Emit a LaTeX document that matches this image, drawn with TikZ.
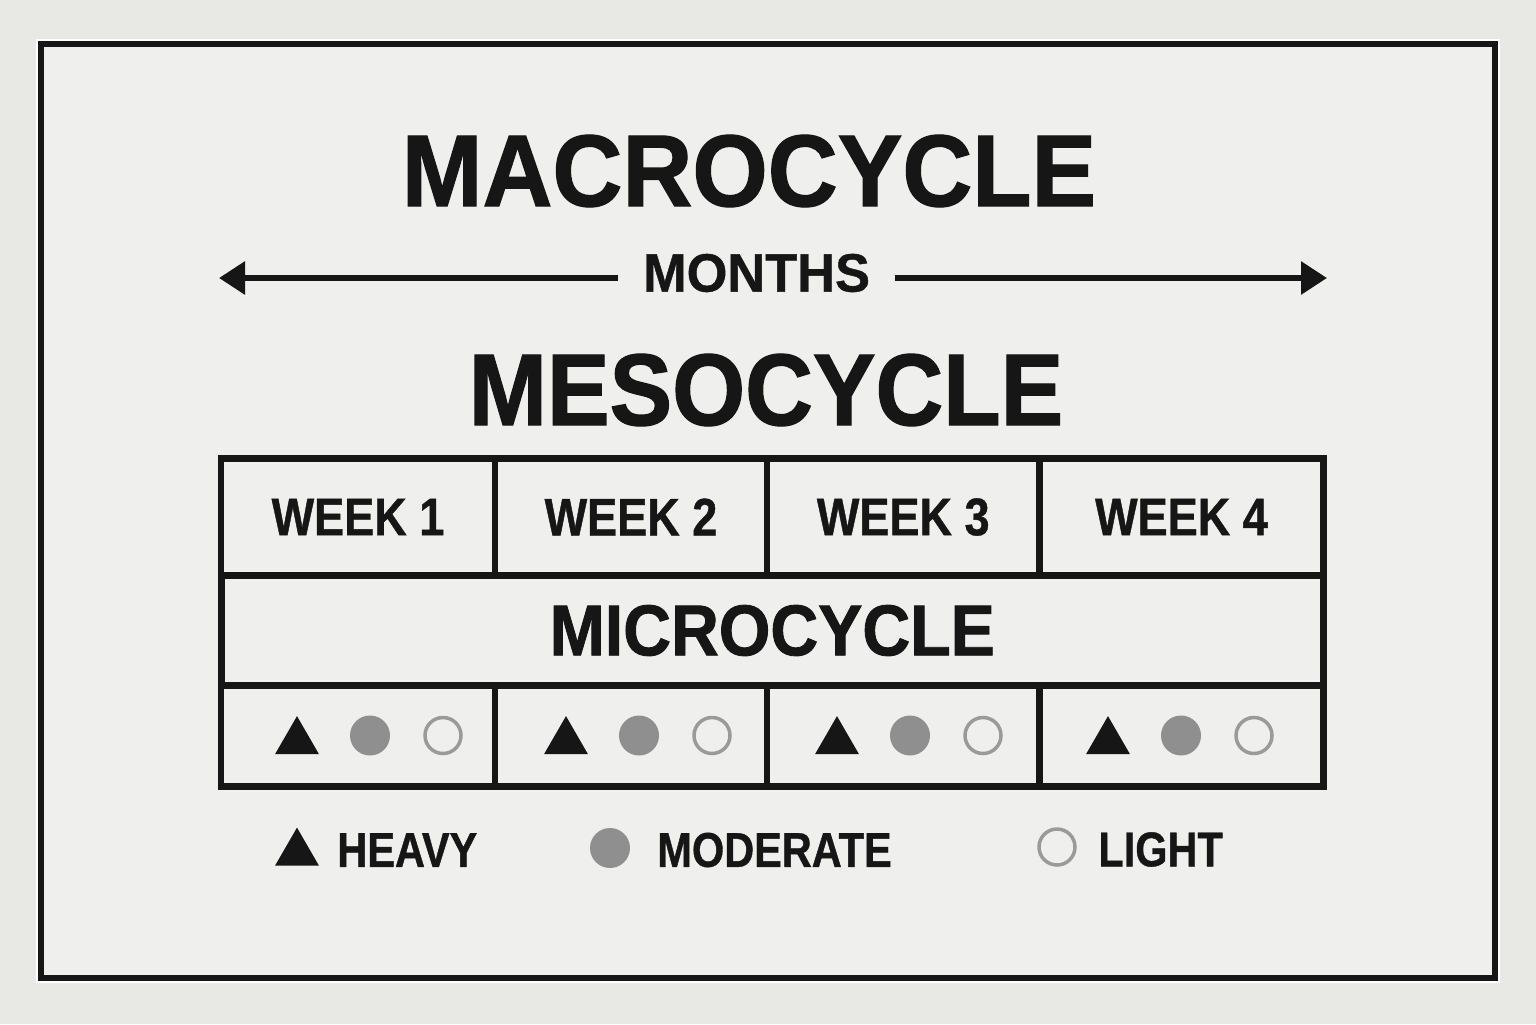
\documentclass[tikz,border=0pt]{standalone}
\usepackage{fontspec}
\setmainfont{Liberation Sans}
\newfontfamily\headfont{Liberation Sans}[FakeStretch=0.92,FakeBold=1.2]
\newfontfamily\macrofont{Liberation Sans}[FakeStretch=0.95,FakeBold=1.2]
\newfontfamily\monthfont{Liberation Sans}[FakeStretch=0.97,FakeBold=0.8]
\newfontfamily\cellfont{Liberation Sans}[FakeStretch=0.85,FakeBold=0.8]
\usetikzlibrary{arrows.meta,shapes.geometric}
\definecolor{wall}{HTML}{E8E8E5}
\definecolor{panel}{HTML}{EFEFED}
\definecolor{ink}{HTML}{161616}
\definecolor{midgray}{HTML}{8F8F8F}
\definecolor{ringgray}{HTML}{9A9A9A}

\begin{document}
\begin{tikzpicture}
[x=0.5pt,y=-0.5pt
,cell/.style={draw=ink,line width=3.25pt,rectangle,inner sep=0pt,text=ink}
,weekcell/.style={cell,minimum height=58.5pt,font=\cellfont\bfseries\fontsize{26.5}{26.5}\selectfont}
,loadcell/.style={cell,minimum height=50.5pt}
,title/.style={text=ink,inner sep=0pt,font=\headfont\bfseries\fontsize{51}{51}\selectfont}
,span/.style={draw=ink,line width=3pt,-{Triangle[length=13pt,width=16pt]}}
,heavy/.style={regular polygon,regular polygon sides=3,fill=ink,minimum size=25.4pt,inner sep=0pt}
,moderate/.style={circle,fill=midgray,minimum size=20pt,inner sep=0pt}
,light/.style={circle,draw=ringgray,line width=1.75pt,fill=panel,minimum size=18pt,inner sep=0pt}
,legend/.style={text=ink,inner sep=0pt,anchor=west,font=\cellfont\bfseries\fontsize{24.4}{24.4}\selectfont}]
% wall and frame
\useasboundingbox (0,0) rectangle (1536,1024);
\fill[wall] (0,0) rectangle (1536,1024);
\draw[white,line width=1pt] (37,40) rectangle (1499,982);
\fill[panel] (41,44) rectangle (1495,978);
\draw[ink,line width=3pt] (41,44) rectangle (1495,978);

\node[title,font=\macrofont\bfseries\fontsize{51}{51}\selectfont] (macro) at (749,171) {MACROCYCLE};
\node[text=ink,inner sep=0pt,minimum width=138.5pt,font=\monthfont\bfseries\fontsize{27}{27}\selectfont]
  (months) at (756.5,273) {MONTHS};
\coordinate (leftend) at (219,278);
\coordinate (rightend) at (1327,278);
\draw[span] ([yshift=-2.5pt]months.west) -- (leftend);
\draw[span] ([yshift=-2.5pt]months.east) -- (rightend);
\node[title] (meso) at (766,390) {MESOCYCLE};

% weeks
\node[weekcell,minimum width=137pt] (w1) at (358,517) {WEEK 1};
\node[weekcell,minimum width=136pt] (w2) at (631,517) {WEEK 2};
\node[weekcell,minimum width=136.25pt] (w3) at (903.25,517) {WEEK 3};
\node[weekcell,minimum width=142pt] (w4) at (1181.5,517) {WEEK 4};
\node[cell,minimum width=551pt,minimum height=55pt,font=\headfont\bfseries\fontsize{36}{36}\selectfont]
  (micro) at (772.25,630.5) {MICROCYCLE};

% loads per week
\node[loadcell,minimum width=137pt] (l1) at (358,736) {};
\node[loadcell,minimum width=136pt] (l2) at (631,736) {};
\node[loadcell,minimum width=136.25pt] (l3) at (903.25,736) {};
\node[loadcell,minimum width=142pt] (l4) at (1181.5,736) {};
\foreach \i/\x in {1/297,2/566,3/837,4/1108}{
  \node[heavy] (h\i) at (\x,741.5) {};
  \node[moderate] (m\i) at (\x+73,735.5) {};
  \node[light] (g\i) at (\x+146,735.5) {};
}

% legend
\node[heavy] (lh) at (297,853) {};
\node[legend] (lhtext) at (337,850) {HEAVY};
\node[moderate] (lm) at (610,848) {};
\node[legend] (lmtext) at (657,850) {MODERATE};
\node[light] (ll) at (1057,847) {};
\node[legend] (lltext) at (1098,849.5) {LIGHT};
\end{tikzpicture}
\end{document}
